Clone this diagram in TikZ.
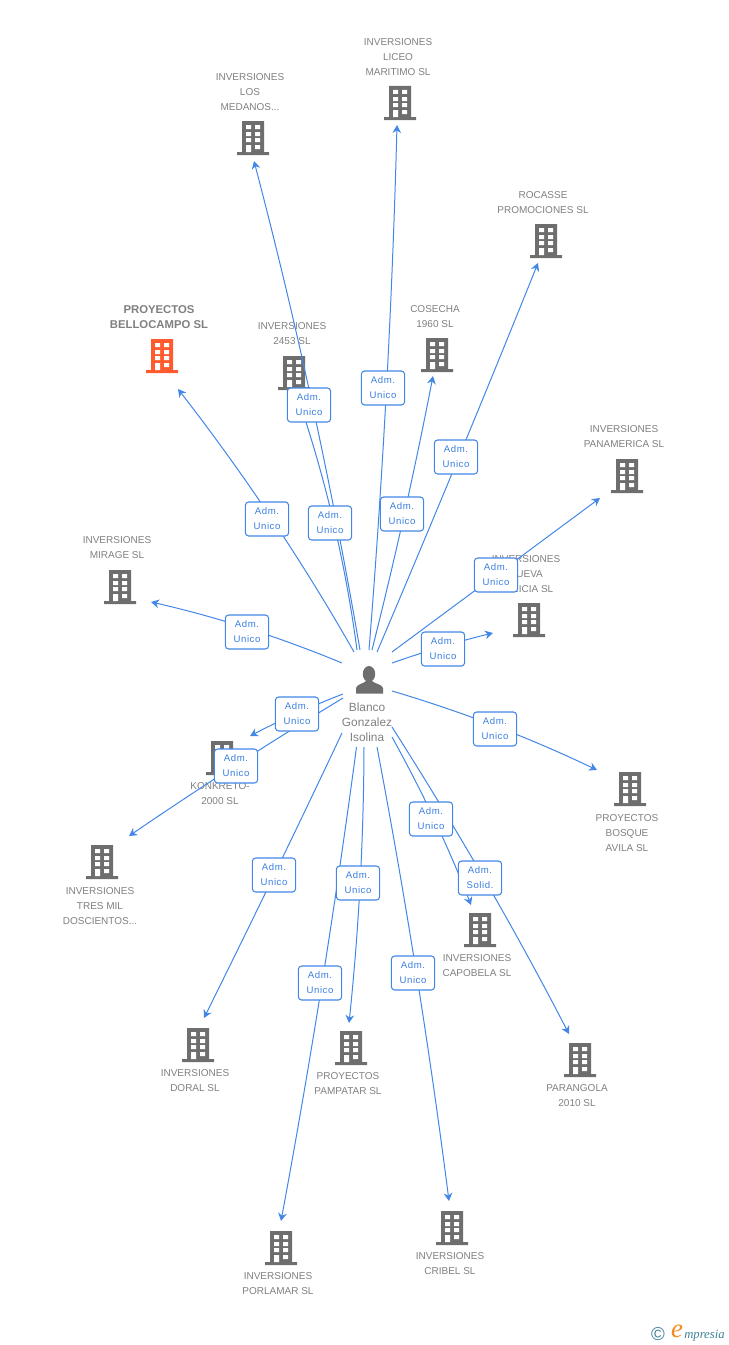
\documentclass[tikz,border=0pt]{standalone}
\usepackage{fontspec}
\setmainfont{Liberation Sans}
\newfontfamily\admfont[LetterSpace=6]{Liberation Sans}
\newfontfamily\logofont{Liberation Serif}
\usepackage{xcolor}
\usetikzlibrary{arrows.meta,calc,positioning}
\definecolor{linkblue}{HTML}{4287E6}
\definecolor{admtext}{HTML}{3A7FE0}
\definecolor{bldgray}{HTML}{6E6E6E}
\definecolor{txtgray}{HTML}{808080}
\definecolor{bldorange}{HTML}{FF5B2E}
\definecolor{logoteal}{HTML}{3F7F9A}
\definecolor{logoorange}{HTML}{F28A1C}
\tikzset{%
	bldcolor/.store in = \bldcolor, bldcolor = bldgray,
	bld/.style      = {rectangle, inner sep=0pt, minimum width=25.5pt, minimum height=26pt,
		path picture={
			\begin{scope}[shift={(path picture bounding box.center)}]
				\fill[\bldcolor] (-11,-17) rectangle (11,14) (-16,14) rectangle (16,17);
				\fill[white] (-7,-13) rectangle +(5,4) (2,-13) rectangle +(5,4)
					(-7,-6) rectangle +(5,4) (2,-6) rectangle +(5,4)
					(-7,0) rectangle +(5,4) (2,0) rectangle +(5,4)
					(-7,7) rectangle +(5,7) (2,7) rectangle +(5,4);
			\end{scope}
		}},
	person/.style   = {rectangle, inner sep=0pt, minimum width=22pt, minimum height=23pt,
		path picture={
			\begin{scope}[shift={(path picture bounding box.center)}]
				\fill[bldgray] (-1,-6) ellipse (6.2 and 8);
				\fill[bldgray] (-14,13.5) -- (-14,8) .. controls (-13,4) and (-7,4) .. (-4,1)
					-- (2,1) .. controls (5,4) and (12,4) .. (13,8) -- (13,13.5) -- cycle;
			\end{scope}
		}},
	bldtext/.style  = {align=center, text=txtgray, inner sep=0pt, font=\fontsize{7.5}{11.25}\selectfont},
	maintext/.style = {align=center, text=txtgray, inner sep=0pt, font=\fontsize{8.5}{11.25}\selectfont\bfseries},
	nametext/.style = {align=center, text=txtgray, inner sep=0pt, font=\fontsize{8.9}{11.25}\selectfont},
	link/.style     = {draw=linkblue, line width=0.75pt, -{Stealth[length=6pt,width=6.5pt]}},
	quad/.style     = {to path={.. controls ($(\tikztostart)!2/3!(#1)$) and ($(\tikztotarget)!2/3!(#1)$) .. (\tikztotarget)}},
	adm/.style      = {draw=linkblue, line width=0.8pt, fill=white, rounded corners=2.5pt, inner sep=0pt,
		minimum width=32.5pt, minimum height=25.5pt, align=center, text=admtext,
		font=\fontsize{7.2}{11.25}\selectfont\admfont},
}
\begin{document}
\begin{tikzpicture}[x=0.75pt,y=-0.75pt]
	\useasboundingbox (0,0) rectangle (728,1345);

	\node [bld,bldcolor=bldorange] (bellocampo) at (162,356) {};
	\node [bld] (medanos) at (253,138) {};
	\node [bld] (liceo) at (400,103) {};
	\node [bld] (rocasse) at (546,241) {};
	\node [bld] (inv2453) at (294,373) {};
	\node [bld] (cosecha) at (437,355) {};
	\node [bld] (panamerica) at (627,476) {};
	\node [bld] (mirage) at (120,587) {};
	\node [bld] (galicia) at (529,620) {};
	\node [bld] (konkreto) at (222,758) {};
	\node [bld] (tresmil) at (102,862) {};
	\node [bld] (bosque) at (630,789) {};
	\node [bld] (capobela) at (480,930) {};
	\node [bld] (doral) at (198,1045) {};
	\node [bld] (pampatar) at (351,1048) {};
	\node [bld] (parangola) at (580,1060) {};
	\node [bld] (porlamar) at (281,1248) {};
	\node [bld] (cribel) at (452,1228) {};
	\node [person] (isolina) at (370,680) {};

	\node [maintext] (tbellocampo) at (159,317) {PROYECTOS\\BELLOCAMPO SL};
	\node [bldtext] (tmedanos) at (250,92) {INVERSIONES\\LOS\\MEDANOS...};
	\node [bldtext] (tliceo) at (398,57) {INVERSIONES\\LICEO\\MARITIMO SL};
	\node [bldtext] (trocasse) at (543,203) {ROCASSE\\PROMOCIONES SL};
	\node [bldtext] (tinv2453) at (292,334) {INVERSIONES\\2453 SL};
	\node [bldtext] (tcosecha) at (435,317) {COSECHA\\1960 SL};
	\node [bldtext] (tpanamerica) at (624,437) {INVERSIONES\\PANAMERICA SL};
	\node [bldtext] (tmirage) at (117,548) {INVERSIONES\\MIRAGE SL};
	\node [bldtext] (tgalicia) at (526,574) {INVERSIONES\\NUEVA\\GALICIA SL};
	\node [bldtext] (tkonkreto) at (220,794) {KONKRETO-\\2000 SL};
	\node [bldtext] (ttresmil) at (100,906) {INVERSIONES\\TRES MIL\\DOSCIENTOS...};
	\node [bldtext] (tbosque) at (627,833) {PROYECTOS\\BOSQUE\\AVILA SL};
	\node [bldtext] (tcapobela) at (477,966) {INVERSIONES\\CAPOBELA SL};
	\node [bldtext] (tdoral) at (195,1081) {INVERSIONES\\DORAL SL};
	\node [bldtext] (tpampatar) at (348,1084) {PROYECTOS\\PAMPATAR SL};
	\node [bldtext] (tparangola) at (577,1096) {PARANGOLA\\2010 SL};
	\node [bldtext] (tporlamar) at (278,1284) {INVERSIONES\\PORLAMAR SL};
	\node [bldtext] (tcribel) at (450,1264) {INVERSIONES\\CRIBEL SL};
	\node [nametext] (tisolina) at (367,722) {Blanco\\Gonzalez\\Isolina};

	% free ends of the connectors, with the control point of each curve
	\coordinate (s1) at (354,652);  \coordinate (c1) at (278,518);   \coordinate (e1) at (178,389);
	\coordinate (s2) at (360,650);  \coordinate (c2) at (318,405);   \coordinate (e2) at (254,161);
	\coordinate (s3) at (357,650);  \coordinate (c3) at (340,521);   \coordinate (e3) at (296,392);
	\coordinate (s4) at (369,650);  \coordinate (c4) at (390,388);   \coordinate (e4) at (397,125);
	\coordinate (s5) at (372,650);  \coordinate (c5) at (406.5,513); \coordinate (e5) at (433,376);
	\coordinate (s6) at (377,652);  \coordinate (c6) at (460,457);   \coordinate (e6) at (538,263);
	\coordinate (s7) at (392,652);  \coordinate (c7) at (496,575);   \coordinate (e7) at (600,498);
	\coordinate (s8) at (392,663);  \coordinate (c8) at (443.5,645); \coordinate (e8) at (493,633);
	\coordinate (s9) at (392,691);  \coordinate (c9) at (495.5,721.5); \coordinate (e9) at (597,770);
	\coordinate (s10) at (392,727); \coordinate (c10) at (489.5,880); \coordinate (e10) at (569,1034);
	\coordinate (s11) at (392,737); \coordinate (c11) at (438.5,821); \coordinate (e11) at (471,905);
	\coordinate (s12) at (377,747); \coordinate (c12) at (420,974);  \coordinate (e12) at (449,1201);
	\coordinate (s13) at (364,747); \coordinate (c13) at (363.5,885); \coordinate (e13) at (349,1023);
	\coordinate (s14) at (356.5,747); \coordinate (c14) at (325,984); \coordinate (e14) at (281,1221);
	\coordinate (s15) at (342,733); \coordinate (c15) at (275,875);  \coordinate (e15) at (204,1018);
	\coordinate (s16) at (343,698); \coordinate (c16) at (236,763);  \coordinate (e16) at (129,836);
	\coordinate (s17) at (343,694); \coordinate (c17) at (296,712);  \coordinate (e17) at (250,736);
	\coordinate (s18) at (342,663); \coordinate (c18) at (248,624);  \coordinate (e18) at (151,602);

	\draw[link] (s1) to[quad=c1] (e1);
	\draw[link] (s2) to[quad=c2] (e2);
	\draw[link] (s3) to[quad=c3] (e3);
	\draw[link] (s4) to[quad=c4] (e4);
	\draw[link] (s5) to[quad=c5] (e5);
	\draw[link] (s6) to[quad=c6] (e6);
	\draw[link] (s7) to[quad=c7] (e7);
	\draw[link] (s8) to[quad=c8] (e8);
	\draw[link] (s9) to[quad=c9] (e9);
	\draw[link] (s10) to[quad=c10] (e10);
	\draw[link] (s11) to[quad=c11] (e11);
	\draw[link] (s12) to[quad=c12] (e12);
	\draw[link] (s13) to[quad=c13] (e13);
	\draw[link] (s14) to[quad=c14] (e14);
	\draw[link] (s15) to[quad=c15] (e15);
	\draw[link] (s16) to[quad=c16] (e16);
	\draw[link] (s17) to[quad=c17] (e17);
	\draw[link] (s18) to[quad=c18] (e18);

	\node [adm] (adm1) at (267,519) {Adm.\\Unico};
	\node [adm] (adm2) at (309,405) {Adm.\\Unico};
	\node [adm] (adm3) at (330,523) {Adm.\\Unico};
	\node [adm] (adm4) at (383,388) {Adm.\\Unico};
	\node [adm] (adm5) at (402,514) {Adm.\\Unico};
	\node [adm] (adm6) at (456,457) {Adm.\\Unico};
	\node [adm] (adm7) at (496,575) {Adm.\\Unico};
	\node [adm] (adm8) at (443,649) {Adm.\\Unico};
	\node [adm] (adm9) at (495,729) {Adm.\\Unico};
	\node [adm] (adm10) at (480,878) {Adm.\\Solid.};
	\node [adm] (adm11) at (431,819) {Adm.\\Unico};
	\node [adm] (adm12) at (413,973) {Adm.\\Unico};
	\node [adm] (adm13) at (358,883) {Adm.\\Unico};
	\node [adm] (adm14) at (320,983) {Adm.\\Unico};
	\node [adm] (adm15) at (274,875) {Adm.\\Unico};
	\node [adm] (adm16) at (236,766) {Adm.\\Unico};
	\node [adm] (adm17) at (297,714) {Adm.\\Unico};
	\node [adm] (adm18) at (247,632) {Adm.\\Unico};

	% logo
	\node [text=logoteal,inner sep=0pt,font=\fontsize{14}{14}\selectfont] (logoc) at (658,1334) {©};
	\node [text=logoorange,inner sep=0pt,font=\fontsize{20}{20}\selectfont\logofont\itshape] (logoe) at (677,1331) {e};
	\node [text=logoteal,inner sep=0pt,anchor=west,font=\fontsize{9.5}{10}\selectfont\logofont\itshape] (logot) at (684,1336) {mpresia};
\end{tikzpicture}
\end{document}
